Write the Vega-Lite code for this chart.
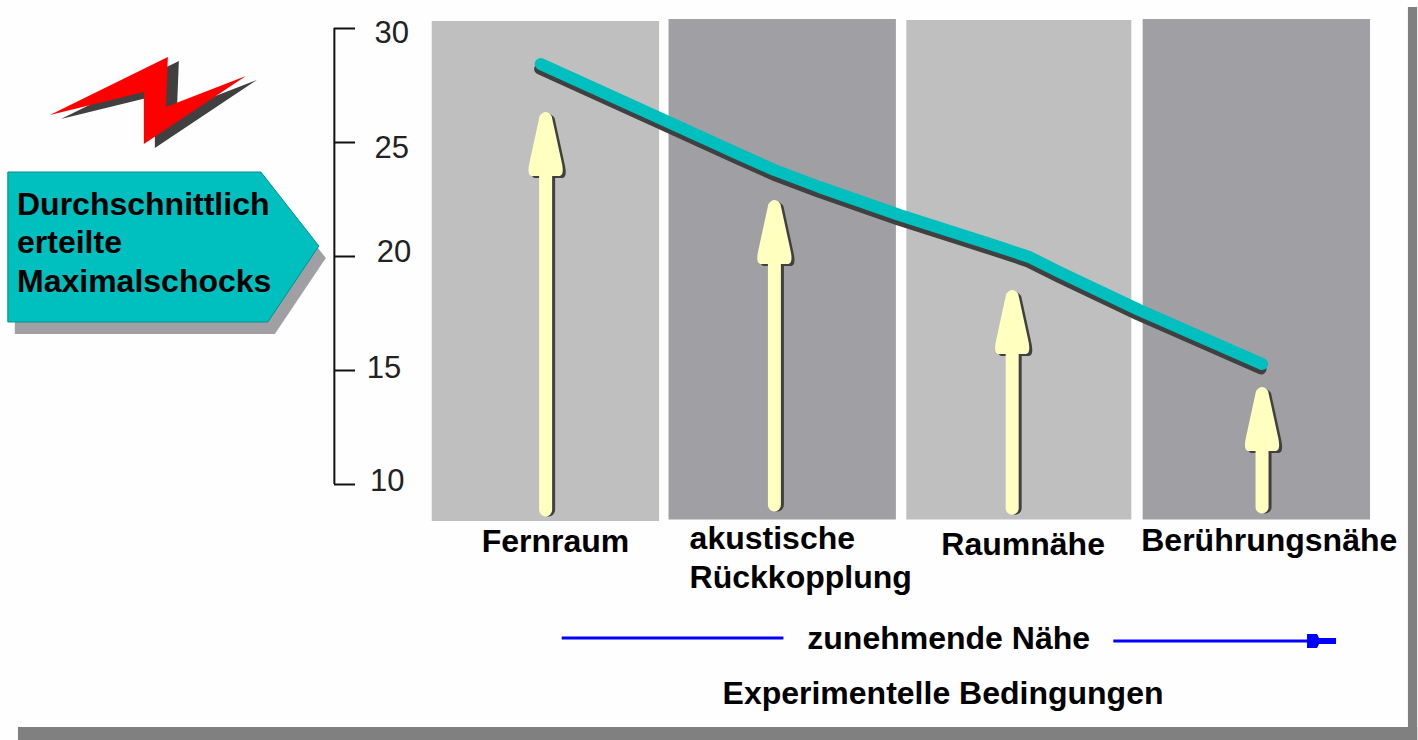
{
"$schema":"https://vega.github.io/schema/vega-lite/v6.json",
"width":1418,"height":740,
"autosize":{"type":"fit","contains":"padding"},
"padding":0,
"background":"#fefefe",
"view":{"stroke":null},
"config":{"text":{"font":"Liberation Sans"}},
"encoding":{
 "x":{"field":"u","type":"quantitative","scale":{"domain":[-1.3038,4.6793],"nice":false,"zero":false},"axis":null},
 "y":{"field":"v","type":"quantitative","scale":{"domain":[-1.228,31.228],"nice":false,"zero":false},
  "axis":{"orient":"right","offset":-1083.5,"title":null,"grid":false,"domain":false,"labels":false,"values":[10,15,20,25,30],"tickSize":21,"tickWidth":2,"tickColor":"#111111"}}
},
"layer":[
{"data":{"values":[
 {"part":"bottom","u":-1.228,"u2":4.68,"v":-0.658,"v2":-1.228},
 {"part":"right","u":4.641,"u2":4.68,"v":30.921,"v2":-1.228}]},
 "mark":{"type":"rect","color":"#808080"},
 "encoding":{"x2":{"field":"u2"},"y2":{"field":"v2"}}},
{"data":{"values":[
 {"condition":"Fernraum","u":0.519,"u2":1.479,"v":30.307,"v2":8.377,"tone":"hell"},
 {"condition":"akustische Rückkopplung","u":1.519,"u2":2.479,"v":30.395,"v2":8.443,"tone":"dunkel"},
 {"condition":"Raumnähe","u":2.523,"u2":3.473,"v":30.351,"v2":8.443,"tone":"hell"},
 {"condition":"Berührungsnähe","u":3.521,"u2":4.481,"v":30.395,"v2":8.443,"tone":"dunkel"}]},
 "mark":{"type":"rect"},
 "encoding":{"x2":{"field":"u2"},"y2":{"field":"v2"},
  "color":{"field":"tone","type":"nominal","scale":{"domain":["hell","dunkel"],"range":["#bfbfbf","#a09fa3"]},"legend":null}}},
{"data":{"name":"achse","values":[{"u":0.108,"v":10,"v2":30}]},
 "mark":{"type":"rule","color":"#111111","strokeWidth":2},
 "encoding":{"y2":{"field":"v2"}}},
{"data":{"name":"skala","values":[
 {"label":"30","u":0.278,"v":29.342},
 {"label":"25","u":0.278,"v":24.298},
 {"label":"20","u":0.287,"v":19.737},
 {"label":"15","u":0.245,"v":14.649},
 {"label":"10","u":0.258,"v":9.693}]},
 "mark":{"type":"text","align":"left","baseline":"alphabetic","font":"Liberation Sans","fontSize":31,"color":"#222222"},
 "encoding":{"text":{"field":"label"}}},
{"data":{"name":"shafts","values":[
 {"u":1.0,"v":23.553,"v2":8.86},
 {"u":1.966,"v":19.605,"v2":9.08},
 {"u":2.970,"v":15.702,"v2":8.94},
 {"u":4.025,"v":11.447,"v2":8.99}]},
 "mark":{"type":"rule","color":"#404040","strokeWidth":13,"strokeCap":"round","xOffset":3},
 "encoding":{"y2":{"field":"v2"}}},
{"data":{"name":"heads","values":[
 {"u":1.0,"v":26.316},{"u":1.966,"v":22.456},{"u":2.970,"v":18.509},{"u":4.025,"v":14.254}]},
 "mark":{"type":"point","filled":true,"opacity":1,"size":4,"color":"#404040","xOffset":3,"yOffset":2,
  "shape":"M-6,4 Q0,-4 6,4 L16,50 Q19,63 14,64 L-14,64 Q-19,63 -16,50 Z"}},
{"data":{"name":"shafts2","values":[
 {"u":1.0,"v":23.553,"v2":8.86},
 {"u":1.966,"v":19.605,"v2":9.08},
 {"u":2.970,"v":15.702,"v2":8.94},
 {"u":4.025,"v":11.447,"v2":8.99}]},
 "mark":{"type":"rule","color":"#ffffc0","strokeWidth":13,"strokeCap":"round"},
 "encoding":{"y2":{"field":"v2"}}},
{"data":{"name":"heads2","values":[
 {"u":1.0,"v":26.316},{"u":1.966,"v":22.456},{"u":2.970,"v":18.509},{"u":4.025,"v":14.254}]},
 "mark":{"type":"point","filled":true,"opacity":1,"size":4,"color":"#ffffc0",
  "shape":"M-6,4 Q0,-4 6,4 L16,50 Q19,63 14,64 L-14,64 Q-19,63 -16,50 Z"}},
{"data":{"name":"schatten","values":[
 {"u":0.979,"v":28.421},{"u":1.481,"v":26.053},{"u":1.819,"v":24.452},{"u":1.966,"v":23.772},{"u":2.156,"v":23.026},{"u":2.494,"v":21.798},{"u":2.916,"v":20.395},{"u":3.042,"v":19.956},{"u":3.169,"v":19.298},{"u":3.506,"v":17.632},{"u":4.025,"v":15.263}]},
 "mark":{"type":"line","color":"#404040","strokeWidth":11,"strokeCap":"round","strokeJoin":"round","xOffset":-1,"yOffset":5}},
{"data":{"name":"schocks","values":[
 {"u":0.979,"v":28.421},{"u":1.481,"v":26.053},{"u":1.819,"v":24.452},{"u":1.966,"v":23.772},{"u":2.156,"v":23.026},{"u":2.494,"v":21.798},{"u":2.916,"v":20.395},{"u":3.042,"v":19.956},{"u":3.169,"v":19.298},{"u":3.506,"v":17.632},{"u":4.025,"v":15.263}]},
 "mark":{"type":"line","color":"#00bfbf","strokeWidth":12,"strokeCap":"round","strokeJoin":"round"}},
{"data":{"name":"blitz","values":[{"u":-0.671,"v":26.842}]},
 "mark":{"type":"point","filled":true,"opacity":1,"size":4,"color":"#404040","xOffset":11,"yOffset":4,
  "shape":"M-100,15 L18,-43 L16,7 L96,-24 L-6,44 L-6,-8 Z"}},
{"data":{"name":"blitz2","values":[{"u":-0.671,"v":26.842}]},
 "mark":{"type":"point","filled":true,"opacity":1,"size":4,"color":"#ff0000",
  "shape":"M-100,15 L18,-43 L16,7 L96,-24 L-6,44 L-6,-8 Z"}},
{"data":{"name":"schild","values":[{"u":-0.629,"v":20.395}]},
 "mark":{"type":"point","filled":true,"opacity":1,"size":4,"color":"#a09fa3","xOffset":7,"yOffset":12,
  "shape":"M-152,-75 L101,-75 L159,-1 L108,75 L-152,75 Z"}},
{"data":{"name":"schild2","values":[{"u":-0.629,"v":20.395}]},
 "mark":{"type":"point","filled":true,"opacity":1,"size":4,"fill":"#00bfbf","stroke":"#009090","strokeWidth":1,
  "shape":"M-152,-75 L101,-75 L159,-1 L108,75 L-152,75 Z"}},
{"data":{"values":[
 {"side":"links","u":1.068,"u2":2.004,"v":3.246},
 {"side":"rechts","u":3.397,"u2":4.224,"v":3.114}]},
 "mark":{"type":"rule","color":"#0000ff","strokeWidth":3},
 "encoding":{"x2":{"field":"u2"}}},
{"data":{"name":"pfeil","values":[{"u":4.215,"v":3.114}]},
 "mark":{"type":"point","filled":true,"opacity":1,"size":4,"color":"#0000ff",
  "shape":"M0,-7 L10,-7 L12,-3 L29,-3 L29,3 L12,3 L10,7 L0,7 Z"}},
{"data":{"values":[
 {"label":"Fernraum","u":0.730,"v":7.018},
 {"label":"akustische","u":1.608,"v":7.149},
 {"label":"Rückkopplung","u":1.608,"v":5.439},
 {"label":"Raumnähe","u":2.671,"v":6.886},
 {"label":"Berührungsnähe","u":3.515,"v":7.061},
 {"label":"zunehmende Nähe","u":2.105,"v":2.763},
 {"label":"Experimentelle Bedingungen","u":1.747,"v":0.351},
 {"label":"Durchschnittlich","u":-1.232,"v":21.798},
 {"label":"erteilte","u":-1.232,"v":20.132},
 {"label":"Maximalschocks","u":-1.232,"v":18.421}]},
 "mark":{"type":"text","align":"left","baseline":"alphabetic","font":"Liberation Sans","fontSize":32,"fontWeight":"bold","color":"#000000"},
 "encoding":{"text":{"field":"label"}}}
]
}
